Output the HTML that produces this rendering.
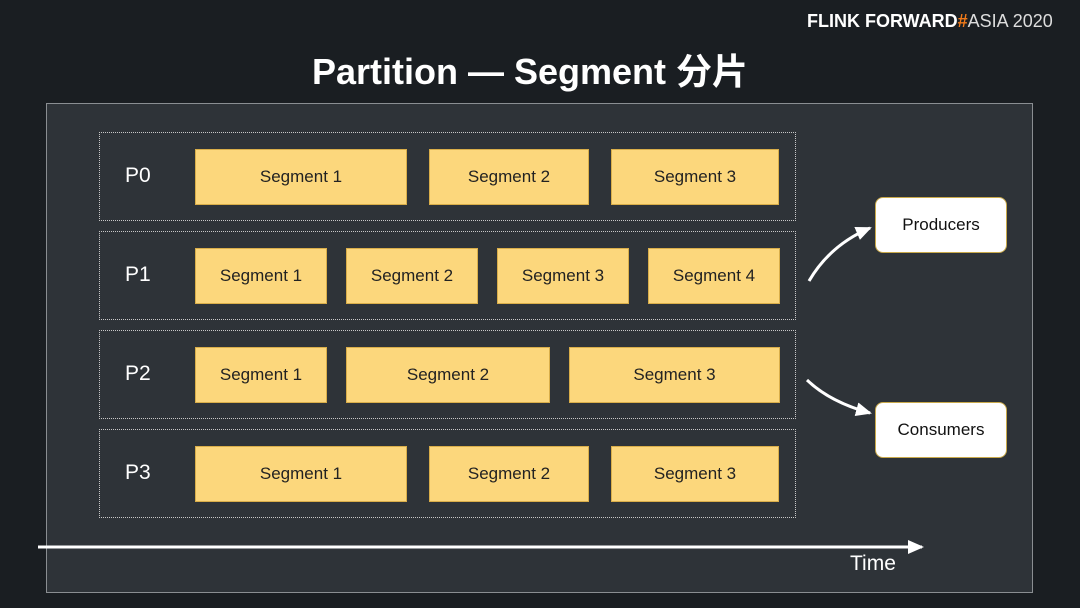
<!DOCTYPE html>
<html><head><meta charset="utf-8"><style>
body{margin:0;width:1080px;height:608px;background:#1a1e22;overflow:hidden;font-family:"Liberation Sans","Noto Sans CJK SC",sans-serif;position:relative}
.abs{position:absolute}
.seg{position:absolute;background:#fcd77c;border:1px solid #d9ae4a;box-sizing:border-box;color:#222;font-size:17px;display:flex;align-items:center;justify-content:center}
.row{position:absolute;left:99px;width:697px;height:89px;border:1px dotted #c8c8c8;box-sizing:border-box}
.plabel{position:absolute;left:125px;color:#fff;font-size:21px}
.side{position:absolute;left:875px;width:132px;height:56px;background:#fff;border:1.5px solid #c9a94a;border-radius:8px;box-sizing:border-box;display:flex;align-items:center;justify-content:center;font-size:17px;color:#111}
</style></head><body>
<div class="abs" style="left:807px;top:11px;font-size:18px;color:#fff;white-space:nowrap"><b>FLINK FORWARD</b><b style="color:#f07a1a">#</b><span style="color:#ddd">ASIA 2020</span></div>
<div class="abs" style="left:0;width:1060px;top:50px;line-height:44px;text-align:center;color:#fff;font-size:36px;font-weight:bold">Partition — Segment 分片</div>
<div class="abs" style="left:46px;top:103px;width:987px;height:490px;background:#2e3338;border:1px solid #8a8e92;box-sizing:border-box"></div>
<div id="rows"></div>
<div class="side" style="top:197px">Producers</div>
<div class="side" style="top:402px">Consumers</div>
<svg class="abs" style="left:0;top:0" width="1080" height="608">
<defs><marker id="ah2" markerWidth="16" markerHeight="14" refX="14" refY="7" orient="auto" markerUnits="userSpaceOnUse"><path d="M0,0 L16,7 L0,14 Z" fill="#fff"/></marker></defs>
<path d="M809,281 Q830,245 870,228" stroke="#fff" stroke-width="3" fill="none" marker-end="url(#ah2)"/>
<path d="M807,380 Q830,402 870,413" stroke="#fff" stroke-width="3" fill="none" marker-end="url(#ah2)"/>
<line x1="38" y1="547" x2="922" y2="547" stroke="#fff" stroke-width="3" marker-end="url(#ah2)"/>
</svg>
<div class="abs" style="left:850px;top:552px;color:#fff;font-size:21px">Time</div>
<script>
const partitions=["P0","P1","P2","P3"];
const segStarts=[[195,429,611],[195,346,497,648],[195,346,569],[195,429,611]];
const segEnds=[[407,589,779],[327,478,629,780],[327,550,780],[407,589,779]];
const rowTops=[132,231,330,429];
const root=document.getElementById('rows');
partitions.forEach((p,i)=>{
 const r=document.createElement('div');r.className='row';r.style.top=rowTops[i]+'px';
 
 
 root.appendChild(r);
 const l=document.createElement('div');l.className='plabel';l.style.top=(rowTops[i]+32)+'px';l.textContent=p;
 
 
 root.appendChild(l);
 segStarts[i].forEach((s,j)=>{
  const d=document.createElement('div');d.className='seg';
  d.style.left=s+'px';d.style.width=(segEnds[i][j]-s)+'px';d.style.top=(rowTops[i]+17)+'px';d.style.height='56px';
  d.textContent='Segment '+(j+1);
  
  
  root.appendChild(d);
 });
});
</script>
</body></html>
